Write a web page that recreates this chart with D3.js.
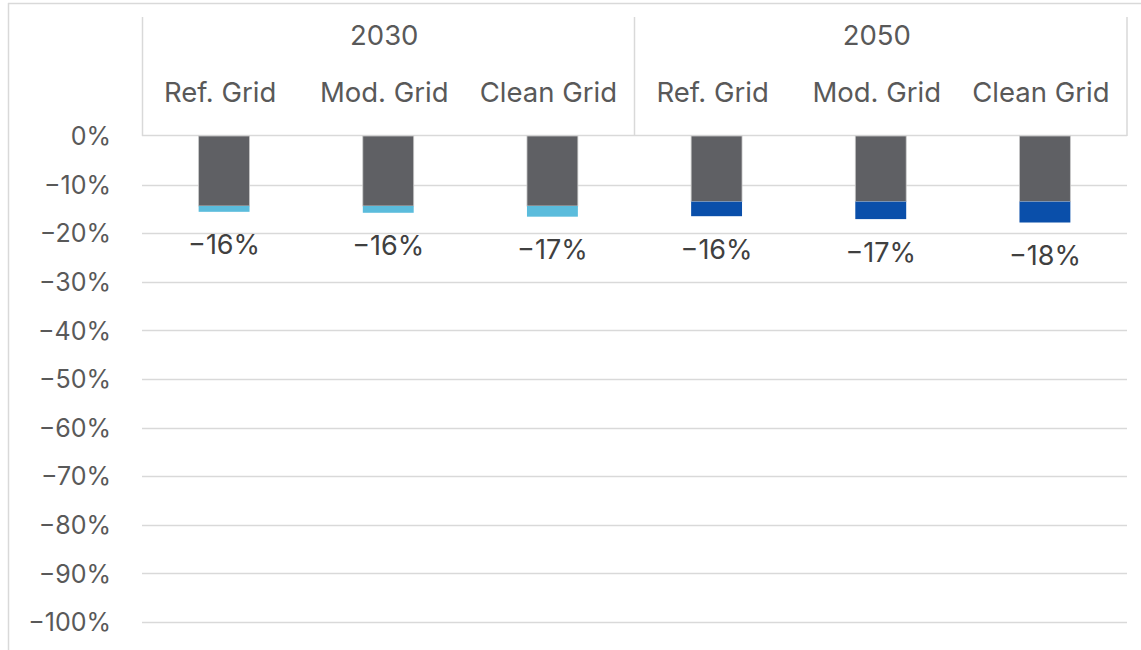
<!DOCTYPE html>
<html><head><meta charset="utf-8">
<script src="https://cdn.jsdelivr.net/npm/d3@7"></script>
<style>body{margin:0;background:#fff}svg{display:block}text{font-family:Inter,"Noto Sans",sans-serif;fill:#595959}</style>
</head><body><svg id="c" width="1141" height="650"></svg>
<script>
const years = ["2030", "2050"];
const scenarios = ["Ref. Grid", "Mod. Grid", "Clean Grid"];
const categories = ["2030|Ref. Grid","2030|Mod. Grid","2030|Clean Grid","2050|Ref. Grid","2050|Mod. Grid","2050|Clean Grid"];
const baseValues = [-14.4, -14.4, -14.4, -13.5, -13.5, -13.5];
const gridValues = [-1.2, -1.4, -2.2, -3.0, -3.6, -4.3];
const totalLabels = ["\u221216%","\u221216%","\u221217%","\u221216%","\u221217%","\u221218%"];
const gridColors = ["#5bbcdc","#5bbcdc","#5bbcdc","#0a4faa","#0a4faa","#0a4faa"];
const yTicks = [0,-10,-20,-30,-40,-50,-60,-70,-80,-90,-100];

const svg = d3.select("#c");
const L = 142, R = 1127, T = 136, B = 622;
const x = d3.scaleBand().domain(categories).range([L, R]).paddingInner(0.69).paddingOuter(0.345);
const y = d3.scaleLinear().domain([0, -100]).range([T, B]);
const line = "#d9d9d9";

// outer frame
svg.append("line").attr("x1",8).attr("x2",1141).attr("y1",3.5).attr("y2",3.5).attr("stroke",line).attr("stroke-width",1.5);
svg.append("line").attr("x1",8.5).attr("x2",8.5).attr("y1",3).attr("y2",650).attr("stroke",line).attr("stroke-width",1.5);

// gridlines
svg.append("g").selectAll("line").data(yTicks.filter(d=>d!==0)).join("line")
  .attr("x1",L).attr("x2",R).attr("y1",d=>Math.round(y(d))+0.5).attr("y2",d=>Math.round(y(d))+0.5)
  .attr("stroke",line).attr("stroke-width",1.5);

// y axis labels
const yAxis = d3.axisLeft(y).tickValues(yTicks).tickSize(0).tickPadding(0)
  .tickFormat(d => (d<0?"\u2212":"") + Math.abs(d) + "%");
const ga = svg.append("g").attr("transform",`translate(${111},0)`).call(yAxis);
ga.select(".domain").remove();
ga.selectAll("text").style("font-size","25px").style("fill","#595959").attr("dy","0.35em").attr("font-family",null);

// header table (left, divider, right verticals + bottom line)
const hdr = svg.append("g");
const divX = (L+R)/2;
[L+0.5, divX, R].forEach(xx => hdr.append("line").attr("x1",xx).attr("x2",xx).attr("y1",17).attr("y2",T)
  .attr("stroke",line).attr("stroke-width",1.5));
hdr.append("line").attr("x1",L).attr("x2",R).attr("y1",T-0.5).attr("y2",T-0.5).attr("stroke",line).attr("stroke-width",1.5);
hdr.selectAll("text.yr").data(years).join("text").attr("class","yr")
  .attr("x",(d,i)=> L + (R-L)/4*(2*i+1) - 4).attr("y",35).attr("dy","0.35em")
  .attr("text-anchor","middle").style("font-size","27.5px").text(d=>d);
hdr.selectAll("text.cat").data(categories).join("text").attr("class","cat")
  .attr("x",d=>x(d)+x.bandwidth()/2 - 4).attr("y",92).attr("dy","0.35em")
  .attr("text-anchor","middle").style("font-size","27.5px").text(d=>d.split("|")[1]);

// bars
svg.append("g").selectAll("rect").data(categories).join("rect")
  .attr("x",d=>x(d)).attr("width",x.bandwidth())
  .attr("y",y(0)).attr("height",(d,i)=>y(baseValues[i])-y(0))
  .attr("fill","#5f6064").attr("stroke","#c8c8c8").attr("stroke-width",0.8);
svg.append("g").selectAll("rect").data(categories).join("rect")
  .attr("x",d=>x(d)).attr("width",x.bandwidth())
  .attr("y",(d,i)=>y(baseValues[i])).attr("height",(d,i)=>y(baseValues[i]+gridValues[i])-y(baseValues[i]))
  .attr("fill",(d,i)=>gridColors[i]);

// total labels
svg.append("g").selectAll("text").data(categories).join("text")
  .attr("x",d=>x(d)+x.bandwidth()/2).attr("y",(d,i)=>y(baseValues[i]+gridValues[i])+33).attr("dy","0.35em")
  .attr("text-anchor","middle").style("font-size","27px").style("fill","#404040").text((d,i)=>totalLabels[i]);
</script></body></html>
